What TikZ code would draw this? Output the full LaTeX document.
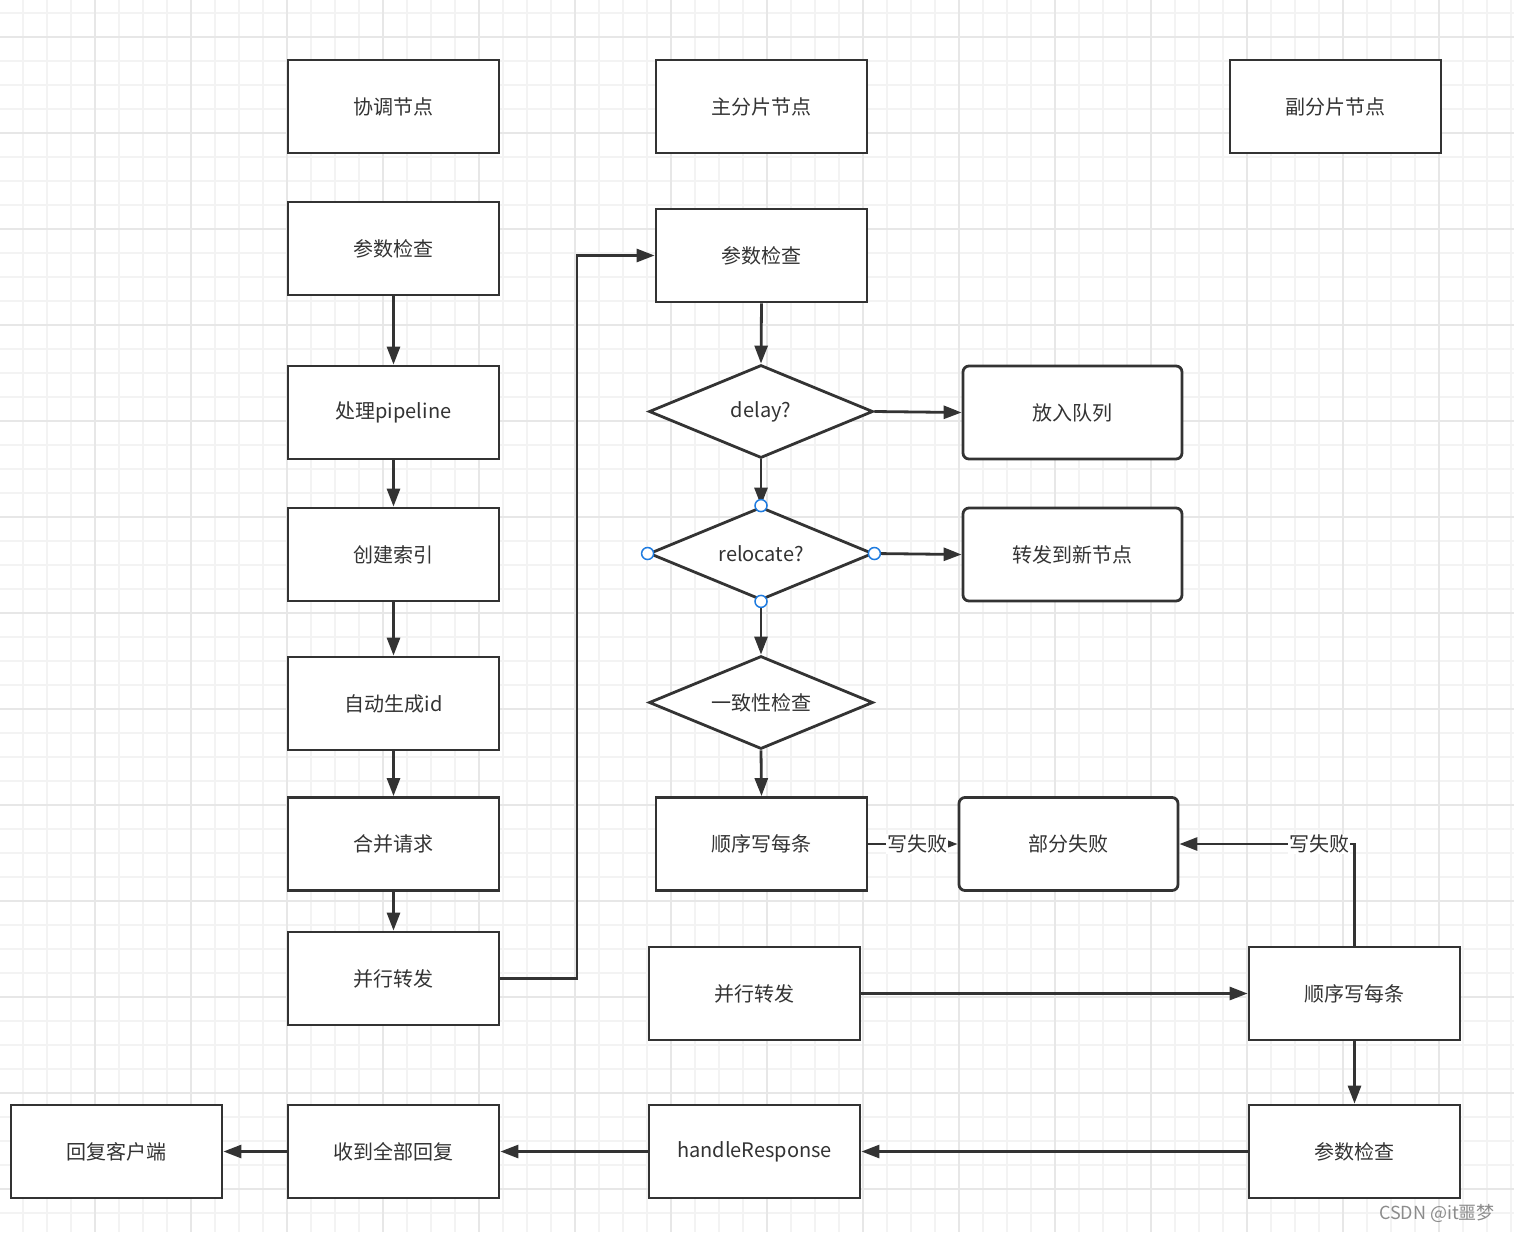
\documentclass[tikz,border=0pt]{standalone}
\usepackage{fontspec}
\setmainfont{Noto Sans CJK SC}
\usetikzlibrary{shapes.geometric,arrows.meta}
\definecolor{ln}{HTML}{333333}
\definecolor{txt}{HTML}{333333}
\definecolor{gminor}{HTML}{F3F3F3}
\definecolor{gmajor}{HTML}{E7E7E7}
\definecolor{sel}{HTML}{1E7BE0}
\tikzset{
  box/.style={draw=ln, line width=2.8pt, fill=white, minimum width=211pt, minimum height=93pt, inner sep=0pt, text=txt, font=\fontsize{20}{24}\selectfont},
  rbox/.style={box, rounded corners=6pt, minimum width=219pt},
  dia/.style={diamond, draw=ln, line width=2.8pt, fill=white, minimum width=224pt, minimum height=93pt, inner sep=0pt, aspect=2.4, text=txt, font=\fontsize{20}{24}\selectfont},
  arr/.style={draw=ln, line width=2.8pt, -{Triangle[length=18pt,width=13pt]}},
  lbl/.style={fill=white, inner sep=1pt, text=txt, font=\fontsize{20}{24}\selectfont},
  handle/.style={draw=sel, line width=1.5pt, fill=white},
}
\begin{document}
\begin{tikzpicture}[x=1pt,y=-1pt]
\useasboundingbox (0,0) rectangle (1514,1232);
\fill[white] (0,0) rectangle (1514,1232);
% grid
\foreach \x in {-1,23,...,1514} \draw[gminor, line width=1.3pt] (\x,0) -- (\x,1232);
\foreach \y in {13,37,...,1232} \draw[gminor, line width=1.3pt] (0,\y) -- (1514,\y);
\foreach \x in {-1,95,...,1514} \draw[gmajor, line width=1.5pt] (\x,0) -- (\x,1232);
\foreach \y in {37,133,...,1232} \draw[gmajor, line width=1.5pt] (0,\y) -- (1514,\y);

% coordinator column
\node[box] (c0) at (393.5,106.5) {协调节点};
\node[box] (c1) at (393.5,248.5) {参数检查};
\node[box] (c2) at (393.5,412.5) {处理pipeline};
\node[box] (c3) at (393.5,554.5) {创建索引};
\node[box] (c4) at (393.5,703.5) {自动生成id};
\node[box] (c5) at (393.5,844) {合并请求};
\node[box] (c6) at (393.5,978.5) {并行转发};
\node[box] (c7) at (393.5,1151.5) {收到全部回复};
\node[box] (cl) at (116.5,1151.5) {回复客户端};

% primary column
\node[box] (p0) at (761.5,106.5) {主分片节点};
\node[box] (p1) at (761.5,255.5) {参数检查};
\node[dia] (d1) at (761,411.5) {delay?};
\node[dia] (d2) at (761,553.5) {relocate?};
\node[dia] (d3) at (761,702.5) {一致性检查};
\node[box] (p2) at (761.5,844) {顺序写每条};
\node[rbox] (q) at (1072.5,412.5) {放入队列};
\node[rbox] (fw) at (1072.5,554.5) {转发到新节点};
\node[rbox] (pf) at (1068.5,844) {部分失败};
\node[box] (p3) at (754.5,993.5) {并行转发};
\node[box] (hr) at (754.5,1151.5) {handleResponse};

% replica column
\node[box] (r0) at (1335.5,106.5) {副分片节点};
\node[box] (r1) at (1354.5,993.5) {顺序写每条};
\node[box] (r2) at (1354.5,1151.5) {参数检查};

% connectors
\draw[arr] (c1.south) -- (c2.north);
\draw[arr] (c2.south) -- (c3.north);
\draw[arr] (c3.south) -- (c4.north);
\draw[arr] (c4.south) -- (c5.north);
\draw[arr] (c5.south) -- (c6.north);
\coordinate (bend) at (577,978.5);
\draw[arr] (c6.east) -- (bend) |- (p1.west);
\draw[arr] (p1.south) -- (d1.north);
\draw[arr] (d1.south) -- (d2.north);
\draw[arr] (d2.south) -- (d3.north);
\draw[arr] (d3.south) -- (p2.north);
\draw[arr] (d1.east) -- (q.west);
\draw[arr] (d2.east) -- (fw.west);
\draw[arr] (p2.east) -- node[lbl, pos=0.55] {写失败} (pf.west);
\draw[arr] (r1.north) |- node[lbl, pos=0.6] {写失败} (pf.east);
\draw[arr] (p3.east) -- (r1.west);
\draw[arr] (r1.south) -- (r2.north);
\draw[arr] (r2.west) -- (hr.east);
\draw[arr] (hr.west) -- (c7.east);
\draw[arr] (c7.west) -- (cl.east);

% selection handles
\foreach \a in {north,south,east,west} \draw[handle] (d2.\a) circle (6pt);

% watermark
\node[text=black!45, font=\fontsize{18}{21}\selectfont] (wm) at (1437,1213) {CSDN @it噩梦};
\end{tikzpicture}
\end{document}
